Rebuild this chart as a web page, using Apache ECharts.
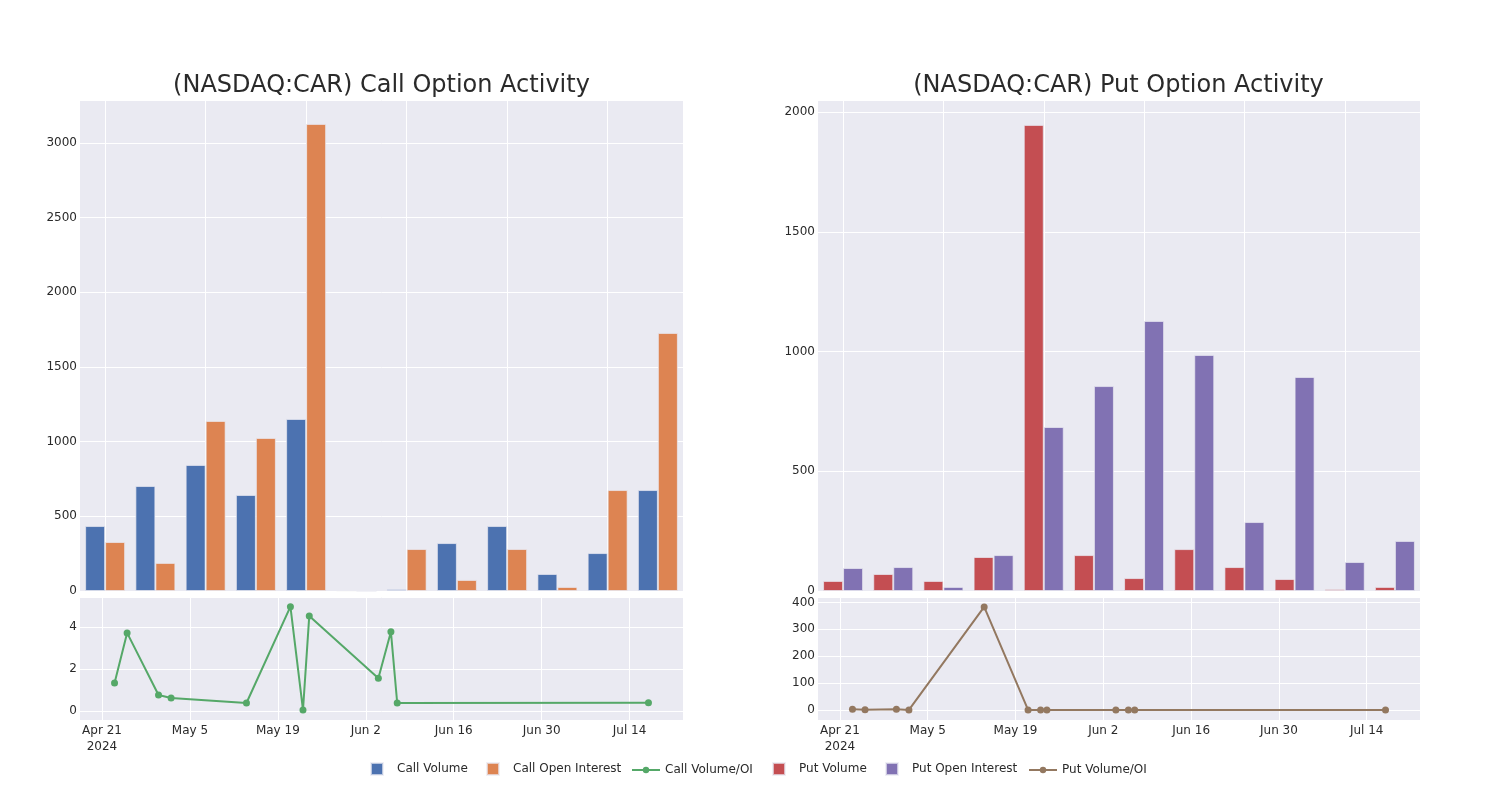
<!DOCTYPE html>
<html>
<head>
<meta charset="utf-8">
<script src="https://cdn.jsdelivr.net/npm/echarts@6/dist/echarts.min.js"></script>
<style>
  html, body { margin: 0; padding: 0; background: #fff; }
  #chart { width: 1500px; height: 800px; }
</style>
</head>
<body>
<div id="chart"></div>
<script>
// ---------- data ----------
const weekDates = ['2024-04-21','2024-04-28','2024-05-05','2024-05-12','2024-05-19','2024-05-26',
                   '2024-06-02','2024-06-09','2024-06-16','2024-06-23','2024-06-30','2024-07-07'];
const callVolume = [435, 703, 844, 643, 1152, 5, 12, 321, 435, 114, 254, 676];
const callOpenInterest = [328, 188, 1139, 1025, 3128, 0, 281, 74, 281, 27, 676, 1728];
const putVolume = [42, 71, 42, 142, 1947, 150, 54, 175, 100, 50, 8, 17];
const putOpenInterest = [96, 100, 17, 150, 685, 856, 1128, 986, 288, 894, 121, 209];

const ratioDates = ['2024-04-23','2024-04-25','2024-04-30','2024-05-02','2024-05-14','2024-05-21',
                    '2024-05-23','2024-05-24','2024-06-04','2024-06-06','2024-06-07','2024-07-17'];
const callVolumeOI = [1.33, 3.72, 0.76, 0.62, 0.38, 4.97, 0.05, 4.53, 1.56, 3.77, 0.38, 0.39];
const putVolumeOI = [2.5, 0.8, 3.0, 0.6, 383, 0.3, 0.2, 0.4, 0.5, 0.2, 0.3, 0.2];

const topGridDates = ['2024-04-21','2024-05-05','2024-05-19','2024-06-02','2024-06-16','2024-06-30'];
const bottomTickDates = ['2024-04-21','2024-05-05','2024-05-19','2024-06-02','2024-06-16','2024-06-30','2024-07-14'];
const bottomTickLabels = ['Apr 21\n2024','May 5','May 19','Jun 2','Jun 16','Jun 30','Jul 14'];

const titles = ['(NASDAQ:CAR) Call Option Activity', '(NASDAQ:CAR) Put Option Activity'];
const seriesNames = ['Call Volume', 'Call Open Interest', 'Call Volume/OI', 'Put Volume', 'Put Open Interest', 'Put Volume/OI'];
const seriesColors = ['#4C72B0', '#DD8452', '#55A868', '#C44E52', '#8172B3', '#937860'];

// ---------- axis scaffolding ----------
function dayRange(start, end) {
  const out = [];
  let t = Date.parse(start + 'T00:00:00Z');
  const e = Date.parse(end + 'T00:00:00Z');
  while (t <= e) { out.push(new Date(t).toISOString().slice(0, 10)); t += 86400000; }
  return out;
}
const topDays = dayRange('2024-04-18', '2024-07-10');
const bottomDays = dayRange('2024-04-18', '2024-07-22');
const topGridSet = new Set(topGridDates);
const bottomTickMap = {};
bottomTickDates.forEach((d, i) => { bottomTickMap[d] = bottomTickLabels[i]; });

const FONT = 'DejaVu Sans';
const TEXT = '#2a2a2a';
const PLOT_BG = '#EAEAF2';

const panels = [
  { left: 80, width: 603 },
  { left: 818, width: 602 }
];

const grids = [];
panels.forEach(p => {
  grids.push({ left: p.left, width: p.width, top: 100, height: 491, show: true, backgroundColor: PLOT_BG, borderWidth: 0 });
  grids.push({ left: p.left, width: p.width, top: 597, height: 123, show: true, backgroundColor: PLOT_BG, borderWidth: 0 });
});

const xAxes = [];
for (let k = 0; k < 2; k++) {
  xAxes.push({
    type: 'category', gridIndex: 2 * k, data: topDays, boundaryGap: true,
    axisLine: { show: false }, axisTick: { show: false }, axisLabel: { show: false },
    splitLine: { show: true, alignWithLabel: true, interval: (i, v) => topGridSet.has(v), lineStyle: { color: '#fff', width: 1 } }
  });
  xAxes.push({
    type: 'category', gridIndex: 2 * k + 1, data: bottomDays, boundaryGap: true,
    axisLine: { show: false }, axisTick: { show: false, alignWithLabel: true },
    axisLabel: {
      show: true, interval: (i, v) => v in bottomTickMap,
      formatter: v => bottomTickMap[v] || '',
      fontFamily: FONT, fontSize: 12, color: TEXT, margin: 3, lineHeight: 16
    },
    splitLine: { show: true, alignWithLabel: true, interval: (i, v) => v in bottomTickMap, lineStyle: { color: '#fff', width: 1 } }
  });
}

function yAxis(gridIndex, min, max, step, useInterval) {
  const ax = {
    type: 'value', gridIndex, min, max,
    axisLine: { show: false }, axisTick: { show: false },
    axisLabel: { fontFamily: FONT, fontSize: 12, color: TEXT, margin: 3, padding: [3, 0, 0, 0],
                 showMinLabel: min === 0, showMaxLabel: false, formatter: v => String(v) },
    splitLine: { show: true, lineStyle: { color: '#fff', width: 1 } }
  };
  if (useInterval) { ax.interval = step; }
  else { ax.minInterval = step; ax.maxInterval = step; ax.splitNumber = Math.round((max - min) / step); }
  return ax;
}
const yAxes = [
  yAxis(0, 0, 3288, 500, true),
  yAxis(1, -0.43, 5.43, 2, false),
  yAxis(2, 0, 2051, 500, true),
  yAxis(3, -37, 420, 100, false)
];

function barSeries(idx, dates, vals, axisIdx) {
  return {
    name: seriesNames[idx], type: 'bar', xAxisIndex: axisIdx, yAxisIndex: axisIdx,
    barWidth: 20, barGap: '0%',
    itemStyle: { color: seriesColors[idx], borderColor: 'rgba(234,234,242,0.7)', borderWidth: 1 },
    data: dates.map((d, i) => [d, vals[i]])
  };
}
function lineSeries(idx, dates, vals, axisIdx) {
  const color = seriesColors[idx];
  return {
    name: seriesNames[idx], type: 'line', xAxisIndex: axisIdx, yAxisIndex: axisIdx,
    symbol: 'circle', symbolSize: 7, showSymbol: true, showAllSymbol: true,
    lineStyle: { color, width: 2 }, itemStyle: { color },
    data: dates.map((d, i) => [d, vals[i]])
  };
}

// one legend per item, placed like the reference
const legendX = [370, 486, 631, 772, 885, 1028];
const legends = seriesNames.map((name, i) => {
  const isLine = i === 2 || i === 5;
  return {
    data: [name], left: legendX[i], top: isLine ? 764 : 762, padding: 0,
    itemWidth: isLine ? 28 : 12, itemHeight: isLine ? 8 : 12,
    icon: isLine ? undefined : 'rect',
    textStyle: { fontFamily: FONT, fontSize: 12, color: TEXT, padding: isLine ? [0, 0, 0, 0] : [0, 0, 0, 9] }
  };
});

const option = {
  animation: false,
  backgroundColor: '#fff',
  title: [
    { text: titles[0], left: 381.5, top: 74, padding: 0, textAlign: 'center', textStyle: { fontFamily: FONT, fontSize: 24, fontWeight: 'normal', color: TEXT } },
    { text: titles[1], left: 1118.5, top: 74, padding: 0, textAlign: 'center', textStyle: { fontFamily: FONT, fontSize: 24, fontWeight: 'normal', color: TEXT } }
  ],
  legend: legends,
  grid: grids,
  xAxis: xAxes,
  yAxis: yAxes,
  series: [
    barSeries(0, weekDates, callVolume, 0),
    barSeries(1, weekDates, callOpenInterest, 0),
    lineSeries(2, ratioDates, callVolumeOI, 1),
    barSeries(3, weekDates, putVolume, 2),
    barSeries(4, weekDates, putOpenInterest, 2),
    lineSeries(5, ratioDates, putVolumeOI, 3)
  ]
};

const chart = echarts.init(document.getElementById('chart'), null, { renderer: 'canvas' });
chart.setOption(option);
</script>
</body>
</html>
